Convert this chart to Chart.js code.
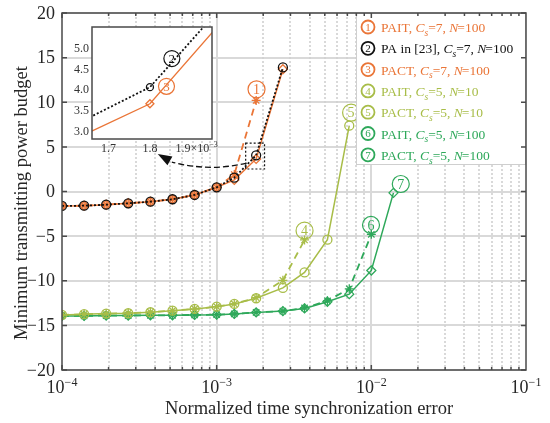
<!DOCTYPE html>
<html lang="en">
<head>
<meta charset="UTF-8">
<title>Minimum transmitting power budget vs. time synchronization error</title>
<script src="https://cdn.jsdelivr.net/npm/chart.js"></script>
<style>
  body { margin: 0; background: #fff; }
  .wrap { position: relative; width: 550px; height: 423px; }
  #mainChart { position: absolute; left: 0; top: 0; }
  #insetChart { position: absolute; left: 66px; top: 24px; }
</style>
</head>
<body>
<div class="wrap">
  <canvas id="mainChart" width="550" height="423"></canvas>
  <canvas id="insetChart" width="170" height="135"></canvas>
</div>
<script>
  // normalized time synchronization error (x positions of the points)
  const timeError = [1e-4, 1.39e-4, 1.93e-4, 2.68e-4, 3.73e-4, 5.18e-4, 7.2e-4, 1e-3,
                     1.3e-3, 1.8e-3, 2.68e-3, 3.7e-3, 5.2e-3, 7.2e-3, 1e-2, 1.39e-2];

  // minimum transmitting power budget for each scheme
  const paitC7N100 = [-1.62, -1.59, -1.48, -1.32, -1.14, -0.87, -0.39, 0.47, 1.9, 10.2];
  const pa23C7N100 = [-1.62, -1.59, -1.48, -1.32, -1.14, -0.87, -0.39, 0.47, 1.55, 4.05, 13.9];
  const pactC7N100 = [-1.62, -1.59, -1.48, -1.32, -1.14, -0.87, -0.39, 0.47, 1.3, 3.65, 13.7];
  const paitC5N10  = [-13.83, -13.75, -13.68, -13.64, -13.53, -13.35, -13.16, -12.9, -12.6, -11.9, -9.95, -5.43];
  const pactC5N10  = [-13.83, -13.75, -13.68, -13.64, -13.53, -13.35, -13.16, -12.9, -12.6, -11.96, -10.8, -9.07, -5.4, 7.37];
  const paitC5N100 = [-13.94, -13.94, -13.9, -13.9, -13.87, -13.87, -13.83, -13.8, -13.72, -13.55, -13.4, -13.05, -12.25, -10.9, -4.8];
  const pactC5N100 = [-13.94, -13.94, -13.9, -13.9, -13.87, -13.87, -13.83, -13.8, -13.72, -13.55, -13.4, -13.1, -12.35, -11.5, -8.85, -0.15];

  const yTicks = [-20, -15, -10, -5, 0, 5, 10, 15, 20];
  const xDecades = [-4, -3, -2, -1];
  const insetXTicks = [1.7, 1.8, 1.9];   // x 10^-3
  const insetYTicks = [3.0, 3.5, 4.0, 4.5, 5.0];

  const FONT = "'Liberation Serif', 'Times New Roman', serif";
  const ORANGE = '#EA7537', BLACK = '#111111', OLIVE = '#A8BD48', GREEN = '#2EA85A';
  const AXIS = '#4a4a4a', TEXT = '#262626';

  const legendItems = [
    { num: 1, name: 'PAIT', cs: 7, n: 100, color: ORANGE },
    { num: 2, name: 'PA in [23]', cs: 7, n: 100, color: BLACK },
    { num: 3, name: 'PACT', cs: 7, n: 100, color: ORANGE },
    { num: 4, name: 'PAIT', cs: 5, n: 10, color: OLIVE },
    { num: 5, name: 'PACT', cs: 5, n: 10, color: OLIVE },
    { num: 6, name: 'PAIT', cs: 5, n: 100, color: GREEN },
    { num: 7, name: 'PACT', cs: 5, n: 100, color: GREEN }
  ];

  // circled labels at the curve ends (data coordinates)
  const callouts = [
    { num: 1, x: 1.81e-3, y: 11.45, color: ORANGE },
    { num: 4, x: 3.7e-3, y: -4.39, color: OLIVE },
    { num: 5, x: 7.4e-3, y: 8.83, color: OLIVE },
    { num: 6, x: 9.95e-3, y: -3.75, color: GREEN },
    { num: 7, x: 1.55e-2, y: 0.84, color: GREEN }
  ];
  const insetCallouts = [
    { num: 2, x: 1.853e-3, y: 4.74, color: BLACK },
    { num: 3, x: 1.84e-3, y: 4.07, color: ORANGE }
  ];

  const toPoints = vals => vals.map((v, i) => ({ x: timeError[i], y: v }));

  function line(data, color, dash, marker, order, width) {
    return {
      data: toPoints(data),
      borderColor: color,
      borderDash: dash,
      borderWidth: width || 1.5,
      pointStyle: marker,
      pointRadius: 4.5,
      pointBorderWidth: 1.3,
      pointBorderColor: color,
      pointBackgroundColor: 'rgba(0,0,0,0)',
      tension: 0,
      fill: false,
      order: order
    };
  }

  function circled(ctx, cx, cy, r, num, color, lw, size) {
    ctx.beginPath();
    ctx.arc(cx, cy, r, 0, Math.PI * 2);
    ctx.lineWidth = lw;
    ctx.strokeStyle = color;
    ctx.setLineDash([]);
    ctx.stroke();
    ctx.fillStyle = color;
    ctx.font = size + 'px ' + FONT;
    ctx.textAlign = 'center';
    ctx.textBaseline = 'middle';
    ctx.fillText(String(num), cx, cy + 1);
  }

  function richText(ctx, parts, x, y, size) {
    ctx.textAlign = 'left';
    ctx.textBaseline = 'alphabetic';
    for (const p of parts) {
      const fs = p.sub ? size * 0.7 : size;
      ctx.font = (p.it ? 'italic ' : '') + fs + 'px ' + FONT;
      ctx.fillText(p.t, x, y + (p.sub ? size * 0.28 : 0));
      x += ctx.measureText(p.t).width + (p.gap || 0);
    }
  }

  const mainDecor = {
    id: 'mainDecor',
    beforeDatasetsDraw(chart) {
      const { ctx, chartArea: a, scales: { x, y } } = chart;
      ctx.save();
      // horizontal grid
      ctx.strokeStyle = '#d9d9d9';
      ctx.lineWidth = 2;
      ctx.beginPath();
      for (const v of yTicks) {
        const py = Math.round(y.getPixelForValue(v));
        ctx.moveTo(a.left, py);
        ctx.lineTo(a.right, py);
      }
      ctx.stroke();
      // vertical grid, solid at decades and dotted in between
      for (let e = -4; e < -1; e++) {
        for (let m = 1; m < 10; m++) {
          if (m === 1 && e === -4) continue;
          const px = Math.round(x.getPixelForValue(m * Math.pow(10, e)));
          ctx.beginPath();
          ctx.moveTo(px, a.top);
          ctx.lineTo(px, a.bottom);
          if (m === 1) {
            ctx.setLineDash([]);
            ctx.strokeStyle = '#d9d9d9';
            ctx.lineWidth = 2;
          } else {
            ctx.setLineDash([2, 2]);
            ctx.strokeStyle = '#d0d0d0';
            ctx.lineWidth = 1.6;
          }
          ctx.stroke();
        }
      }
      ctx.restore();
    },
    afterDraw(chart) {
      const { ctx, chartArea: a, scales: { x, y } } = chart;
      ctx.save();

      // zoom box and arrow to the inset
      ctx.strokeStyle = BLACK;
      ctx.lineWidth = 1.2;
      ctx.setLineDash([2, 2]);
      const rx1 = x.getPixelForValue(1.54e-3), rx2 = x.getPixelForValue(2.04e-3);
      const ry1 = y.getPixelForValue(5.43), ry2 = y.getPixelForValue(2.52);
      ctx.strokeRect(rx1, ry1, rx2 - rx1, ry2 - ry1);

      const p0 = [x.getPixelForValue(1.562e-3), y.getPixelForValue(3.19)];
      const pc = [x.getPixelForValue(9.0e-4), y.getPixelForValue(2.18)];
      const p1 = [x.getPixelForValue(5.13e-4), y.getPixelForValue(3.3)];
      const tip = [x.getPixelForValue(4.16e-4), y.getPixelForValue(4.2)];
      ctx.setLineDash([6, 3]);
      ctx.lineWidth = 1.3;
      ctx.beginPath();
      ctx.moveTo(p0[0], p0[1]);
      ctx.quadraticCurveTo(pc[0], pc[1], p1[0], p1[1]);
      ctx.stroke();
      const ang = Math.atan2(tip[1] - p1[1], tip[0] - p1[0]);
      ctx.setLineDash([]);
      ctx.fillStyle = BLACK;
      ctx.beginPath();
      ctx.moveTo(tip[0], tip[1]);
      ctx.lineTo(tip[0] - 14 * Math.cos(ang) + 5 * Math.sin(ang), tip[1] - 14 * Math.sin(ang) - 5 * Math.cos(ang));
      ctx.lineTo(tip[0] - 14 * Math.cos(ang) - 5 * Math.sin(ang), tip[1] - 14 * Math.sin(ang) + 5 * Math.cos(ang));
      ctx.closePath();
      ctx.fill();

      // circled curve labels
      for (const c of callouts) {
        circled(ctx, x.getPixelForValue(c.x), y.getPixelForValue(c.y), 8.5, c.num, c.color, 1.2, 14);
      }

      // legend
      const lw = 170, lh = 152;
      const lx = a.right - lw, ly = a.top;
      ctx.fillStyle = '#fff';
      ctx.fillRect(lx, ly, lw, lh);
      ctx.strokeStyle = '#cfcfcf';
      ctx.lineWidth = 1;
      ctx.strokeRect(lx + 0.5, ly + 0.5, lw - 1, lh - 1);
      legendItems.forEach((it, i) => {
        const cy = ly + 14 + i * 21.3;
        circled(ctx, lx + 12, cy, 6.5, it.num, it.color, 1.8, 11);
        ctx.fillStyle = it.color;
        richText(ctx, [
          { t: it.name + ', ' },
          { t: 'C', it: true },
          { t: 's', it: true, sub: true },
          { t: '=' + it.cs + ', ' },
          { t: 'N', it: true, gap: -1 },
          { t: '=' + it.n }
        ], lx + 25, cy + 5, 13.5);
      });

      // frame and ticks
      ctx.strokeStyle = AXIS;
      ctx.lineWidth = 1.5;
      ctx.setLineDash([]);
      ctx.strokeRect(a.left, a.top, a.right - a.left, a.bottom - a.top);
      ctx.beginPath();
      for (const v of yTicks) {
        const py = y.getPixelForValue(v);
        ctx.moveTo(a.left, py); ctx.lineTo(a.left + 5, py);
        ctx.moveTo(a.right, py); ctx.lineTo(a.right - 5, py);
      }
      for (let e = -4; e < -1; e++) {
        for (let m = 1; m < 10; m++) {
          const px = x.getPixelForValue(m * Math.pow(10, e));
          const t = m === 1 ? 5 : 3;
          ctx.moveTo(px, a.bottom); ctx.lineTo(px, a.bottom - t);
          ctx.moveTo(px, a.top); ctx.lineTo(px, a.top + t);
        }
      }
      ctx.stroke();

      // y tick labels
      ctx.fillStyle = TEXT;
      ctx.font = '18px ' + FONT;
      ctx.textAlign = 'right';
      ctx.textBaseline = 'middle';
      for (const v of yTicks) {
        ctx.fillText(String(v).replace('-', '\u2212'), a.left - 7, y.getPixelForValue(v) + 1);
      }

      // x tick labels 10^n
      ctx.textBaseline = 'alphabetic';
      ctx.textAlign = 'left';
      for (const e of xDecades) {
        const px = x.getPixelForValue(Math.pow(10, e));
        const exp = '\u2212' + Math.abs(e);
        ctx.font = '18px ' + FONT;
        const wb = ctx.measureText('10').width;
        ctx.font = '12px ' + FONT;
        const we = ctx.measureText(exp).width;
        const sx = px - (wb + we) / 2;
        ctx.font = '18px ' + FONT;
        ctx.fillText('10', sx, a.bottom + 23);
        ctx.font = '12px ' + FONT;
        ctx.fillText(exp, sx + wb, a.bottom + 16);
      }

      // axis titles
      ctx.font = '18.5px ' + FONT;
      ctx.textAlign = 'center';
      ctx.fillText('Normalized time synchronization error', 309, chart.height - 9);
      ctx.save();
      ctx.translate(26.5, 203);
      ctx.rotate(-Math.PI / 2);
      ctx.fillText('Minimum transmitting power budget', 0, 0);
      ctx.restore();

      ctx.restore();
    }
  };

  new Chart(document.getElementById('mainChart'), {
    type: 'line',
    data: {
      datasets: [
        line(paitC7N100, ORANGE, [7, 5], 'star', 2, 1.8),
        line(pa23C7N100, BLACK, [2, 2], 'circle', 0, 1.8),
        line(pactC7N100, ORANGE, [], 'rectRot', 1),
        line(paitC5N10, OLIVE, [7, 5], 'star', 4, 1.8),
        line(pactC5N10, OLIVE, [], 'circle', 3),
        line(paitC5N100, GREEN, [7, 5], 'star', 6, 1.8),
        line(pactC5N100, GREEN, [], 'rectRot', 5)
      ]
    },
    options: {
      responsive: false,
      animation: false,
      layout: { padding: { top: 13, right: 24, left: 0, bottom: 0 }, autoPadding: false },
      plugins: { legend: { display: false }, tooltip: { enabled: false } },
      scales: {
        x: {
          type: 'logarithmic',
          min: 1e-4,
          max: 1e-1,
          grid: { display: false },
          border: { display: false },
          ticks: { display: false },
          afterFit: s => { s.height = 53; }
        },
        y: {
          min: -20,
          max: 20,
          grid: { display: false },
          border: { display: false },
          ticks: { display: false },
          afterFit: s => { s.width = 62; }
        }
      }
    },
    plugins: [mainDecor]
  });

  // inset: zoom around x = 1.8e-3
  const insetDecor = {
    id: 'insetDecor',
    beforeDraw(chart) {
      const { ctx, chartArea: a } = chart;
      ctx.save();
      ctx.fillStyle = '#fff';
      ctx.fillRect(a.left, a.top, a.right - a.left, a.bottom - a.top);
      ctx.restore();
    },
    afterDraw(chart) {
      const { ctx, chartArea: a, scales: { x, y } } = chart;
      ctx.save();
      for (const c of insetCallouts) {
        circled(ctx, x.getPixelForValue(c.x), y.getPixelForValue(c.y), 8, c.num, c.color, 1.2, 13);
      }
      ctx.strokeStyle = AXIS;
      ctx.lineWidth = 1.5;
      ctx.strokeRect(a.left, a.top, a.right - a.left, a.bottom - a.top);
      ctx.fillStyle = '#333';
      ctx.font = '12px ' + FONT;
      ctx.textAlign = 'right';
      ctx.textBaseline = 'middle';
      for (const v of insetYTicks) {
        ctx.fillText(v.toFixed(1), a.left - 3, y.getPixelForValue(v) + 1);
      }
      ctx.textBaseline = 'alphabetic';
      insetXTicks.forEach((t, i) => {
        const px = x.getPixelForValue(t * 1e-3);
        const label = t.toFixed(1);
        if (i === insetXTicks.length - 1) {
          ctx.textAlign = 'right';
          ctx.font = '12px ' + FONT;
          ctx.fillText(label + '\u00d710', px + 18, a.bottom + 13);
          ctx.textAlign = 'left';
          ctx.font = '8px ' + FONT;
          ctx.fillText('\u22123', px + 18, a.bottom + 8);
        } else {
          ctx.textAlign = 'center';
          ctx.fillText(label, px, a.bottom + 13);
        }
      });
      ctx.restore();
    }
  };

  new Chart(document.getElementById('insetChart'), {
    type: 'line',
    data: {
      datasets: [
        Object.assign(line(pa23C7N100, BLACK, [2, 2], 'circle', 0, 1.8), { pointRadius: 3.5 }),
        Object.assign(line(pactC7N100, ORANGE, [], 'rectRot', 1, 1.3), { pointRadius: 4 })
      ]
    },
    options: {
      responsive: false,
      animation: false,
      layout: { padding: { top: 3, right: 24, left: 0, bottom: 0 }, autoPadding: false },
      plugins: { legend: { display: false }, tooltip: { enabled: false } },
      datasets: { line: { clip: 0 } },
      scales: {
        x: {
          type: 'linear',
          min: 1.66e-3,
          max: 1.95e-3,
          grid: { display: false },
          border: { display: false },
          ticks: { display: false },
          afterFit: s => { s.height = 20; }
        },
        y: {
          min: 2.8,
          max: 5.5,
          grid: { display: false },
          border: { display: false },
          ticks: { display: false },
          afterFit: s => { s.width = 26; }
        }
      }
    },
    plugins: [insetDecor]
  });
</script>
</body>
</html>
